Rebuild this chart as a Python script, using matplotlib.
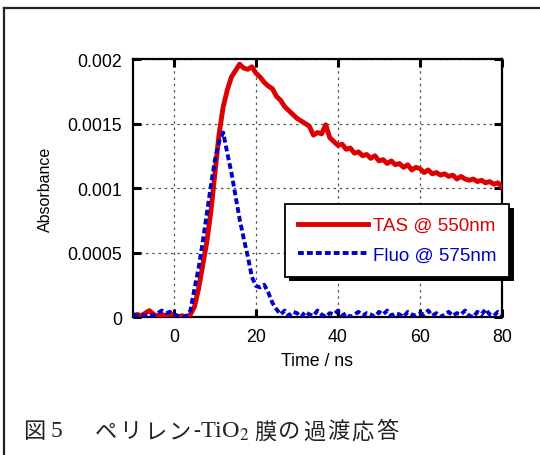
import matplotlib.pyplot as plt
import matplotlib.patheffects as pe
import numpy as np

plt.rcParams['font.family'] = ['Liberation Sans', 'Noto Sans CJK JP', 'DejaVu Sans']
plt.rcParams['mathtext.fontset'] = 'stix'

# time axis in ns (1 ns steps, -10 .. 80)
time_ns = np.arange(-10, 81)

tas_550 = [
    0.00001, 0.00002, 0.00001, 0.00003, 0.00005, 0.00002, 0.00001, 0.00002, 0.00001, 0.00003,  # -10..-1
    0.00001, 0.00000, 0.00001, 0.00000, 0.00002, 0.00008, 0.00022, 0.00040, 0.00058, 0.00082,  # 0..9
    0.00112, 0.00142, 0.00163, 0.00176, 0.00186, 0.00191, 0.00196, 0.00193, 0.00192, 0.00194,  # 10..19
    0.00189, 0.00186, 0.00182, 0.00179, 0.00177, 0.00171, 0.00168, 0.00163, 0.00160, 0.00157,  # 20..29
    0.00154, 0.00152, 0.00150, 0.00148, 0.00141, 0.00143, 0.00142, 0.00149, 0.00139, 0.00136,  # 30..39
    0.00133, 0.00134, 0.00130, 0.00131, 0.00127, 0.00128, 0.00125, 0.00126, 0.00123, 0.00125,  # 40..49
    0.00121, 0.00122, 0.00119, 0.00121, 0.00118, 0.00119, 0.00116, 0.00118, 0.00114, 0.00116,  # 50..59
    0.00115, 0.00112, 0.00114, 0.00111, 0.00112, 0.00110, 0.00111, 0.00109, 0.00110, 0.00107,  # 60..69
    0.00109, 0.00107, 0.00106, 0.00107, 0.00105, 0.00106, 0.00104, 0.00105, 0.00103, 0.00104,  # 70..79
    0.00101,                                                                                   # 80
]

fluo_575 = [
    0.00002, 0.00001, 0.00002, 0.00001, 0.00002, 0.00001, 0.00003, 0.00005, 0.00003, 0.00004,  # -10..-1
    0.00002, 0.00001, 0.00000, 0.00001, 0.00005, 0.00022, 0.00038, 0.00058, 0.00080, 0.00102,  # 0..9
    0.00122, 0.00136, 0.00143, 0.00127, 0.00112, 0.00094, 0.00076, 0.00061, 0.00047, 0.00031,  # 10..19
    0.00024, 0.00023, 0.00025, 0.00019, 0.00011, 0.00006, 0.00002, 0.00005, 0.00001, 0.00004,  # 20..29
    0.00003, 0.00000, 0.00004, 0.00002, 0.00001, 0.00005, 0.00002, 0.00000, 0.00003, 0.00002,  # 30..39
    0.00005, 0.00001, 0.00003, 0.00000, 0.00002, 0.00004, 0.00001, 0.00003, 0.00002, 0.00000,  # 40..49
    0.00004, 0.00002, 0.00005, 0.00001, 0.00003, 0.00002, 0.00000, 0.00004, 0.00002, 0.00001,  # 50..59
    0.00003, 0.00002, 0.00005, 0.00001, 0.00003, 0.00000, 0.00002, 0.00004, 0.00001, 0.00003,  # 60..69
    0.00002, 0.00005, 0.00001, 0.00000, 0.00004, 0.00002, 0.00006, 0.00002, 0.00001, 0.00004,  # 70..79
    0.00002,                                                                                   # 80
]

x_ticks = [0, 20, 40, 60, 80]
y_ticks = [0, 0.0005, 0.001, 0.0015, 0.002]
y_tick_labels = ['0', '0.0005', '0.001', '0.0015', '0.002']

fig = plt.figure(figsize=(5.4, 4.56), dpi=100)
ax = fig.add_axes([0.2463, 0.3026, 0.6833, 0.5658])

ax.plot(time_ns, tas_550, color='#dd0000', linewidth=3.5, label='TAS @ 550nm', zorder=3)
ax.plot(time_ns, fluo_575, color='#0000cc', linewidth=2.8, dashes=(1.5, 0.8),
        label='Fluo @ 575nm', zorder=4)

ax.set_xlim(-10, 80)
ax.set_ylim(0, 0.002)
ax.set_xticks(x_ticks)
ax.set_yticks(y_ticks)
ax.set_yticklabels(y_tick_labels)
ax.grid(True, linestyle=(0, (2, 3)), color='#555555', linewidth=0.9)
ax.set_axisbelow(True)
ax.tick_params(direction='in', length=6, width=2.2, labelsize=12.8, pad=8,
               top=True, right=True)
for s in ax.spines.values():
    s.set_linewidth(1.6)

ax.set_xlabel('Time / ns', fontsize=12.8, labelpad=5)
ax.set_ylabel('Absorbance', fontsize=11.5, labelpad=10)

leg = ax.legend(loc='upper left', bbox_to_anchor=(0.412, 0.438), borderaxespad=0,
                fontsize=13.5, handlelength=3.7, handletextpad=0.27, borderpad=0.7,
                labelspacing=0.65, fancybox=False, framealpha=1, edgecolor='black')
leg.get_frame().set_linewidth(1.3)
leg.get_frame().set_path_effects([
    pe.SimplePatchShadow(offset=(3.2, -3.2), shadow_rgbFace='black', alpha=1),
    pe.Normal()])
for txt, c in zip(leg.get_texts(), ['#dd0000', '#0000cc']):
    txt.set_color(c)

# page frame: only top and left edges are visible
fig.add_artist(plt.Line2D([3.5 / 540, 3.5 / 540], [0, 1 - 8.5 / 456],
                          transform=fig.transFigure, color='#222222', linewidth=1.6))
fig.add_artist(plt.Line2D([3.5 / 540, 1], [1 - 8.5 / 456, 1 - 8.5 / 456],
                          transform=fig.transFigure, color='#222222', linewidth=1.6))

# caption, placed piece by piece to follow the original spacing
cap_y = 1 - 432 / 456
cjk = ['Noto Sans CJK JP', 'DejaVu Sans']


def put_chars(s, x0, pitch, size=16):
    for i, ch in enumerate(s):
        fig.text((x0 + i * pitch) / 540, cap_y, ch, fontsize=size, family=cjk,
                 va='center', ha='left', color='#222222')


put_chars('図', 23, 24)
fig.text(51 / 540, cap_y, '5', fontsize=17, family='Liberation Serif',
         va='center', ha='left', color='#222222')
put_chars('ペリレン', 95, 24.5)
fig.text(193 / 540, cap_y, '-', fontsize=15, family='Liberation Serif',
         va='center', ha='left', color='#222222')
fig.text(200 / 540, cap_y, 'TiO$_2$', fontsize=17.5, family='Liberation Serif',
         va='center', ha='left', color='#222222')
put_chars('膜の過渡応答', 254, 24.4)

plt.savefig('out.png', dpi=100)
